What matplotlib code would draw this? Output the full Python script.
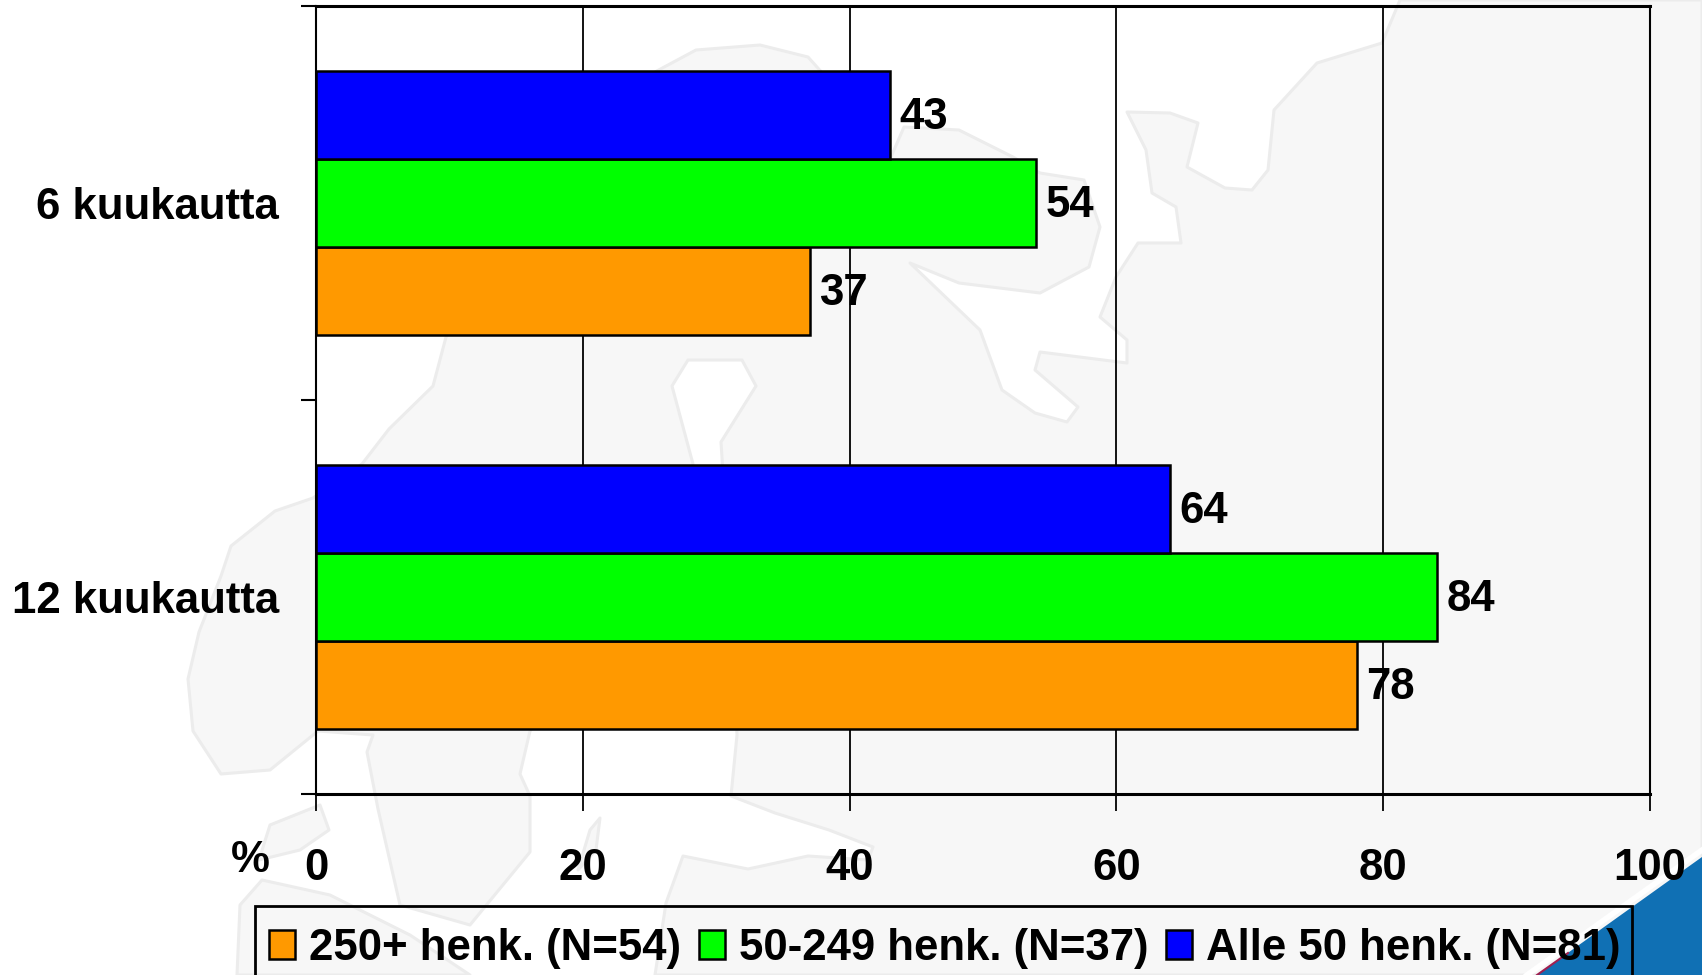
import numpy as np
import matplotlib
matplotlib.use("Agg")
import matplotlib.pyplot as plt
from matplotlib.patches import Rectangle

plt.rcParams['font.family'] = ['Liberation Sans', 'DejaVu Sans']
plt.rcParams['font.weight'] = 'bold'

categories = ["6 kuukautta", "12 kuukautta"]
small = [43, 64]
medium = [54, 84]
large = [37, 78]
series_names = ["250+ henk. (N=54)", "50-249 henk. (N=37)", "Alle 50 henk. (N=81)"]
xticks = [0, 20, 40, 60, 80, 100]

W, H = 1702, 975
fs = 31.5

fig = plt.figure(figsize=(W / 100, H / 100), dpi=100, facecolor='white')

# background picture (map watermark + corner), in pixel coordinates
bg = fig.add_axes([0, 0, 1, 1], zorder=0)
bg.set_xlim(0, W)
bg.set_ylim(H, 0)
bg.axis('off')

land = [(1702, 0), (1400, 0), (1382, 43), (1317, 63), (1274, 110), (1268, 170), (1252, 190),
        (1225, 188), (1187, 167), (1198, 123), (1170, 113), (1127, 112), (1146, 150),
        (1152, 193), (1176, 207), (1181, 243), (1138, 243), (1116, 277), (1100, 317),
        (1127, 340), (1127, 363), (1040, 352), (1035, 370), (1078, 407), (1067, 422),
        (1035, 413), (1002, 390), (980, 330), (910, 263), (959, 283), (1040, 293),
        (1089, 267), (1100, 227), (1084, 180), (1040, 173), (1013, 157), (959, 130),
        (904, 127), (891, 157), (860, 115), (808, 57), (760, 45), (696, 50), (640, 80),
        (446, 337), (433, 386), (389, 429), (362, 464), (313, 498), (275, 511), (231, 546),
        (221, 576), (199, 632), (188, 679), (193, 731), (221, 774), (270, 770), (318, 731),
        (373, 735), (367, 752), (378, 809), (400, 905), (470, 925), (530, 852), (530, 796),
        (520, 774), (530, 731), (640, 600), (693, 464), (672, 386), (688, 360), (742, 360),
        (756, 386), (721, 442), (731, 600), (737, 735), (731, 796), (775, 813), (829, 830),
        (873, 847), (868, 860), (808, 856), (748, 869), (683, 856), (666, 903), (655, 975),
        (1702, 975)]
south = [(237, 975), (240, 905), (262, 880), (330, 895), (410, 935), (470, 975)]
denmark = [(259, 860), (270, 825), (320, 805), (329, 830), (300, 850)]
gotland = [(578, 870), (590, 830), (600, 818), (596, 850)]
for poly in [land, south, denmark, gotland]:
    xs, ys = zip(*poly)
    bg.fill(xs, ys, facecolor='#f7f7f7', edgecolor='#ececec', lw=2.2, joinstyle='round')

bg.fill([1537, 1702, 1702], [975, 857, 975], color='#1070b4', lw=0)
bg.plot([1527, 1702], [975, 850], color='white', lw=4)
bg.plot([1537, 1568], [975, 953], color='#a02050', lw=1.5)

ax = fig.add_axes([316 / W, 1 - 794 / H, (1650 - 316) / W, (794 - 6) / H], zorder=1)
ax.patch.set_alpha(0)

y = np.array([0.5, 1.5])
h = 0.2234
ax.barh(y + h, large, h, color='#ff9900', edgecolor='black', lw=1.8, zorder=3, label=series_names[0])
ax.barh(y, medium, h, color='#00ff00', edgecolor='black', lw=1.8, zorder=3, label=series_names[1])
ax.barh(y - h, small, h, color='#0000ff', edgecolor='black', lw=1.8, zorder=3, label=series_names[2])

for vals, off in [(small, -h), (medium, 0), (large, h)]:
    for i in range(len(vals)):
        ax.annotate(str(vals[i]), (vals[i], y[i] + off), xytext=(7, -1.7), textcoords='offset points',
                    va='center', ha='left', fontsize=fs, fontweight='bold', zorder=4)

ax.set_xlim(0, 100)
ax.set_ylim(2, 0)
ax.set_xticks(xticks)
ax.set_yticks([0, 1, 2])
ax.set_yticklabels([])
ax.set_yticks(y, minor=True)
ax.set_yticklabels(categories, minor=True, fontsize=fs, fontweight='bold')
ax.tick_params(axis='y', which='minor', length=0, pad=26.5)
ax.tick_params(axis='y', which='major', length=10.8, width=1.5)
ax.tick_params(axis='x', length=12.2, width=1.3, pad=26.5, labelsize=fs)
ax.xaxis.grid(True, color='black', lw=1.3, zorder=1)
ax.set_axisbelow(True)
ax.spines['top'].set_linewidth(2.2)
ax.spines['bottom'].set_linewidth(2.2)
ax.spines['left'].set_linewidth(1.5)
ax.spines['right'].set_linewidth(1.5)

fig.text(250 / W, 1 - 860 / H, "%", fontsize=fs, fontweight='bold', ha='center', va='center', zorder=2)

# legend frame runs off the bottom of the picture, so it is drawn apart from the legend
fig.add_artist(Rectangle((255 / W, 1 - 1000 / H), (1632 - 255) / W, (1000 - 906) / H,
                         transform=fig.transFigure, facecolor='none', edgecolor='black', lw=2, zorder=3))

handles, labels = ax.get_legend_handles_labels()
leg = fig.legend(handles, labels, ncol=3, loc='upper left', bbox_to_anchor=(269 / W, 1 - 928 / H),
                 borderaxespad=0, frameon=False, handlelength=0.6, handleheight=0.64,
                 handletextpad=0.32, columnspacing=0.4, borderpad=0,
                 prop={'family': 'Liberation Sans', 'weight': 'bold', 'size': fs})
leg.set_zorder(3)

fig.savefig("out.png", dpi=100)
